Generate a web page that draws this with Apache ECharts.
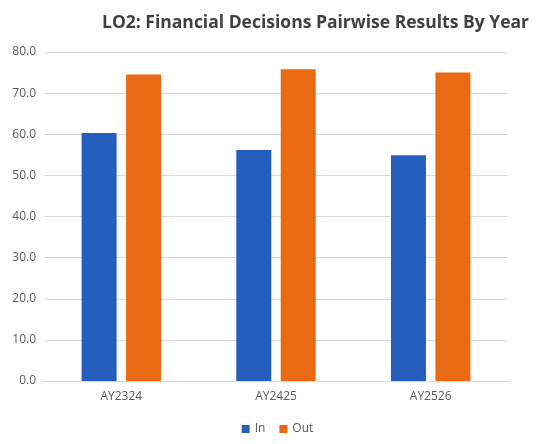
<!DOCTYPE html>
<html>
<head>
<meta charset="utf-8">
<script src="https://cdn.jsdelivr.net/npm/echarts@6/dist/echarts.min.js"></script>
<style>html,body{margin:0;padding:0;background:#fff}#chart{width:555px;height:444px}</style>
</head>
<body>
<div id="chart"></div>
<script>
// 数据
var categories = ['AY2324', 'AY2425', 'AY2526'];
var inValues = [60.3, 56.2, 54.9];
var outValues = [74.5, 75.8, 75.0];

var myChart = echarts.init(document.getElementById('chart'));
var font = '"Open Sans", "Liberation Sans", sans-serif';

var option = {
  animation: false,
  title: {
    text: 'LO2: Financial Decisions Pairwise Results By Year',
    left: 97,
    top: 9,
    textStyle: { fontFamily: font, fontSize: 17.5, fontWeight: 'bold', color: '#404040' }
  },
  legend: {
    data: ['In', 'Out'],
    bottom: 4,
    itemWidth: 8,
    itemHeight: 8,
    itemGap: 14,
    icon: 'rect',
    textStyle: { fontFamily: font, fontSize: 12, color: '#595959' }
  },
  grid: { left: 44, right: 47, top: 52, bottom: 63 },
  xAxis: {
    type: 'category',
    data: categories,
    axisTick: { show: false },
    axisLine: { lineStyle: { color: '#d9d9d9' } },
    axisLabel: { fontFamily: font, fontSize: 12, color: '#595959', margin: 10 }
  },
  yAxis: {
    type: 'value',
    min: 0,
    max: 80,
    interval: 10,
    axisLabel: {
      fontFamily: font, fontSize: 12, color: '#595959',
      formatter: function (v) { return v.toFixed(1); }
    },
    splitLine: { lineStyle: { color: '#d9d9d9' } }
  },
  series: [{
    name: 'In',
    type: 'bar',
    data: inValues,
    barWidth: 35,
    barGap: '27%',
    itemStyle: { color: '#255ebd' }
  }, {
    name: 'Out',
    type: 'bar',
    data: outValues,
    barWidth: 35,
    itemStyle: { color: '#e96a12' }
  }]
};

myChart.setOption(option);
</script>
</body>
</html>
